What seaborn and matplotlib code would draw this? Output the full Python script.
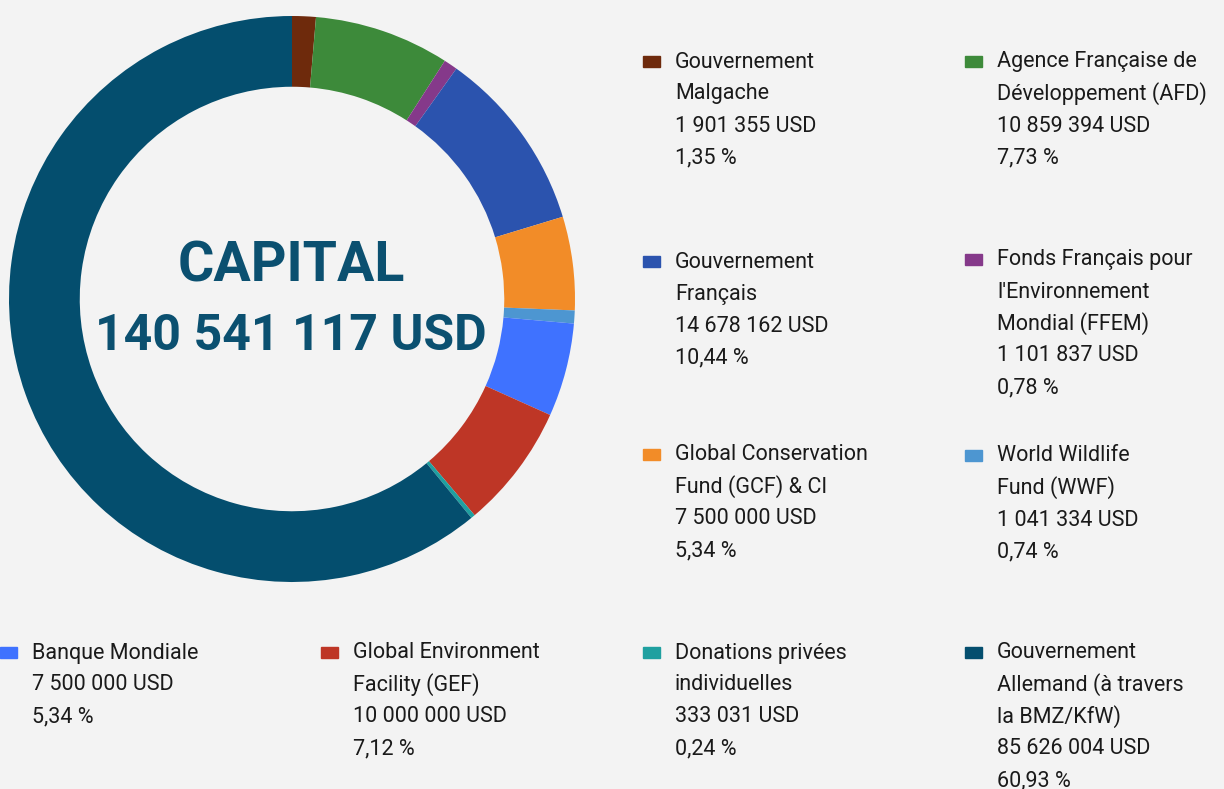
import matplotlib
matplotlib.use("Agg")
import matplotlib.pyplot as plt
import matplotlib.patches as mpatches
import seaborn as sns

# Data (clockwise from the top)
names = [
    "Gouvernement\nMalgache",
    "Agence Française de\nDéveloppement (AFD)",
    "Fonds Français pour\nl'Environnement\nMondial (FFEM)",
    "Gouvernement\nFrançais",
    "Global Conservation\nFund (GCF) & CI",
    "World Wildlife\nFund (WWF)",
    "Banque Mondiale",
    "Global Environment\nFacility (GEF)",
    "Donations privées\nindividuelles",
    "Gouvernement\nAllemand (à travers\nla BMZ/KfW)",
]
amounts = [1901355, 10859394, 1101837, 14678162, 7500000,
           1041334, 7500000, 10000000, 333031, 85626004]
amount_labels = ["1 901 355 USD", "10 859 394 USD", "1 101 837 USD", "14 678 162 USD",
                 "7 500 000 USD", "1 041 334 USD", "7 500 000 USD", "10 000 000 USD",
                 "333 031 USD", "85 626 004 USD"]
pct_labels = ["1,35 %", "7,73 %", "0,78 %", "10,44 %", "5,34 %",
              "0,74 %", "5,34 %", "7,12 %", "0,24 %", "60,93 %"]
colors = ["#6e2a0c", "#3d8a3a", "#85398a", "#2b53ae", "#f28c28",
          "#4d96d1", "#3f72ff", "#be3626", "#1fa0a0", "#044e6e"]
total_label = "140 541 117 USD"

sns.set_theme(style="white")
plt.rcParams["font.family"] = ["Roboto", "DejaVu Sans"]

W, H = 1224, 789
bg = "#f3f3f3"
fig = plt.figure(figsize=(W / 100, H / 100), dpi=100, facecolor=bg)

def fx(x):
    return x / W

def fy(y):
    return 1 - y / H

# Donut
cx, cy, r = 292, 299, 283
ax = fig.add_axes([fx(cx - r), fy(cy + r), 2 * r / W, 2 * r / H])
ax.set_facecolor(bg)
palette = sns.color_palette(colors)
ax.pie(amounts, colors=palette, startangle=90, counterclock=False, radius=1,
       wedgeprops=dict(width=0.25, edgecolor="none", linewidth=0))
ax.set_xlim(-1, 1)
ax.set_ylim(-1, 1)
ax.set_aspect("equal")
ax.axis("off")

title_color = "#0b5070"
fig.text(fx(291), fy(266), "CAPITAL", ha="center", va="center",
         fontsize=40, fontweight="bold", color=title_color)
fig.text(fx(291), fy(337), total_label, ha="center", va="center",
         fontsize=36, fontweight="bold", color=title_color)

# Legend blocks: (marker left x, first line centre y)
positions = [
    (643, 62), (965, 62),
    (965, 260), (643, 262),
    (643, 455), (965, 456),
    (0, 653), (321, 653), (643, 653), (965, 653),
]
line_h = 32
txt_color = "#1a1a1a"
for i in range(len(names)):
    mx, y0 = positions[i]
    fig.patches.append(mpatches.Rectangle((fx(mx), fy(y0 + 5)), 17 / W, 11 / H,
                                          transform=fig.transFigure, color=colors[i]))
    lines = names[i].split("\n") + [amount_labels[i], pct_labels[i]]
    for j, line in enumerate(lines):
        fig.text(fx(mx + 32), fy(y0 + j * line_h), line, ha="left", va="center",
                 fontsize=15.5, color=txt_color)

fig.savefig("out.png", dpi=100, facecolor=bg)
